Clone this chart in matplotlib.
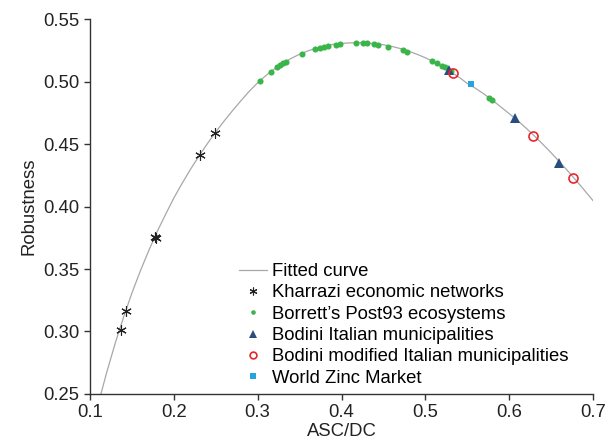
"""Robustness vs ASC/DC with fitted curve and network data sets."""

import matplotlib
matplotlib.use('Agg')
import matplotlib.pyplot as plt
from matplotlib.ticker import FormatStrFormatter

# fitted curve
curve_x = [0.113, 0.120, 0.130, 0.140, 0.150, 0.160, 0.170, 0.180, 0.190, 0.200,
           0.210, 0.220, 0.230, 0.240, 0.250, 0.260, 0.270, 0.280, 0.290, 0.300,
           0.310, 0.320, 0.330, 0.340, 0.350, 0.360, 0.370, 0.380, 0.390, 0.400,
           0.410, 0.420, 0.430, 0.440, 0.450, 0.460, 0.470, 0.480, 0.490, 0.500,
           0.510, 0.520, 0.530, 0.540, 0.550, 0.560, 0.570, 0.580, 0.590, 0.600,
           0.610, 0.620, 0.630, 0.640, 0.650, 0.660, 0.670, 0.680, 0.690, 0.700]
curve_y = [0.250, 0.2675, 0.2905, 0.3115, 0.3308, 0.3484, 0.3646, 0.3798, 0.3935, 0.4068,
           0.4187, 0.4299, 0.4404, 0.4503, 0.4596, 0.4684, 0.4767, 0.4846, 0.4922, 0.4990,
           0.5049, 0.5101, 0.5146, 0.5185, 0.5218, 0.5245, 0.5267, 0.5285, 0.5297, 0.5305,
           0.5309, 0.5310, 0.5308, 0.5303, 0.5294, 0.5281, 0.5264, 0.5243, 0.5218, 0.5190,
           0.5157, 0.5120, 0.5079, 0.5035, 0.4985, 0.4945, 0.4900, 0.4850, 0.4797, 0.4743,
           0.4688, 0.4628, 0.4565, 0.4499, 0.4430, 0.4358, 0.4284, 0.4207, 0.4128, 0.4047]

kharrazi_x = [0.1366, 0.1426, 0.1770, 0.1790, 0.2313, 0.2492]
kharrazi_y = [0.3012, 0.3166, 0.3760, 0.3745, 0.4414, 0.4585]

borrett_x = [0.3029, 0.3156, 0.3228, 0.3267, 0.3299, 0.3335, 0.3526, 0.3685, 0.3745,
             0.3792, 0.3844, 0.3936, 0.3983, 0.4171, 0.4261, 0.4301, 0.4392, 0.4433,
             0.4560, 0.4735, 0.4782, 0.5078, 0.5134, 0.5195, 0.5234, 0.5302, 0.5755,
             0.5795]
borrett_y = [0.5007, 0.5079, 0.5113, 0.5132, 0.5145, 0.5159, 0.5220, 0.5257, 0.5270,
             0.5280, 0.5285, 0.5292, 0.5297, 0.5305, 0.5305, 0.5305, 0.5297, 0.5295,
             0.5278, 0.5252, 0.5239, 0.5164, 0.5146, 0.5124, 0.5113, 0.5087, 0.4871,
             0.4852]

bodini_x = [0.5288, 0.6074, 0.6589]
bodini_y = [0.5092, 0.4706, 0.4350]

bodini_mod_x = [0.5327, 0.6290, 0.6760]
bodini_mod_y = [0.5071, 0.4564, 0.4230]

zinc_x = [0.5545]
zinc_y = [0.4983]

plt.rcParams['font.family'] = ['Liberation Sans', 'DejaVu Sans']
FS = 13.3

fig = plt.figure(figsize=(6.14, 4.42), dpi=100)
ax = fig.add_axes([0.1466, 0.1086, 0.8192, 0.8484])

ax.plot(curve_x, curve_y, color='#a8a8a8', linewidth=0.9, label='Fitted curve', zorder=1)
ax.plot(kharrazi_x, kharrazi_y, linestyle='none', marker=(6, 2, 0), markersize=7.5,
        markeredgewidth=0.8, color='#222222', label='Kharrazi economic networks', zorder=3)
ax.plot(borrett_x, borrett_y, linestyle='none', marker='o', markersize=4.4,
        color='#3ab54a', markeredgewidth=0, label="Borrett\u2019s Post93 ecosystems", zorder=2)
ax.plot(bodini_x, bodini_y, linestyle='none', marker='^', markersize=7,
        color='#284d7e', markeredgewidth=0, label='Bodini Italian municipalities', zorder=3)
ax.plot(bodini_mod_x, bodini_mod_y, linestyle='none', marker='o', markersize=6.5,
        markerfacecolor='none', markeredgecolor='#e8262a', markeredgewidth=1.2,
        label='Bodini modified Italian municipalities', zorder=4)
ax.plot(zinc_x, zinc_y, linestyle='none', marker='s', markersize=5,
        color='#29a3dc', markeredgewidth=0, label='World Zinc Market', zorder=3)

ax.set_xlim(0.1, 0.7)
ax.set_ylim(0.25, 0.55)
ax.set_xticks([0.1, 0.2, 0.3, 0.4, 0.5, 0.6, 0.7])
ax.set_yticks([0.25, 0.30, 0.35, 0.40, 0.45, 0.50, 0.55])
ax.xaxis.set_major_formatter(FormatStrFormatter('%.1f'))
ax.yaxis.set_major_formatter(FormatStrFormatter('%.2f'))

for side in ('top', 'right'):
    ax.spines[side].set_visible(False)
for side in ('left', 'bottom'):
    ax.spines[side].set_color('#333333')
    ax.spines[side].set_linewidth(1.0)
ax.tick_params(direction='out', length=4, width=1.0, color='#333333',
               labelsize=FS, labelcolor='#222222')

ax.set_xlabel('ASC/DC', fontsize=FS, color='#222222', labelpad=1)
ax.set_ylabel('Robustness', fontsize=FS, color='#222222', labelpad=4)

ax.legend(loc='upper left', bbox_to_anchor=(0.296, 0.349), frameon=False,
          fontsize=FS, handlelength=1.5, handletextpad=0.3, labelspacing=0.235,
          borderaxespad=0, borderpad=0, markerscale=0.75)

fig.savefig('out.png', dpi=100)
